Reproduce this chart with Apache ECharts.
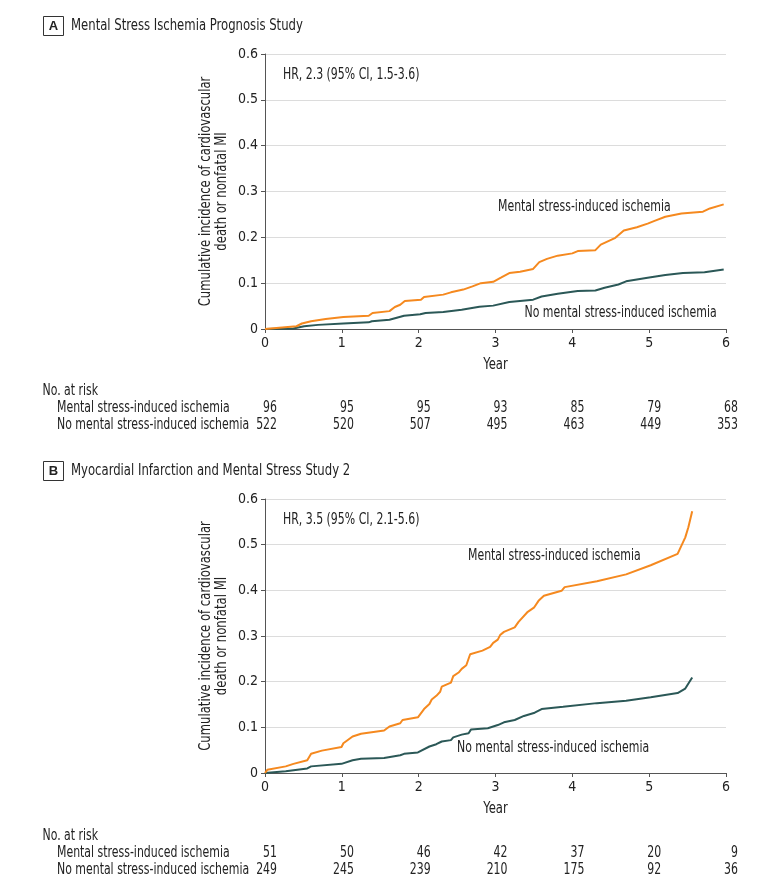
<!DOCTYPE html>
<html><head><meta charset="utf-8">
<script src="https://cdn.jsdelivr.net/npm/echarts@6/dist/echarts.min.js"></script>
<style>html,body{margin:0;padding:0;background:#fff}#c{width:780px;height:885px}</style>
</head><body><div id="c"></div>
<script>
const FONT = '"DejaVu Sans Condensed","DejaVu Sans",sans-serif';
const SX = 0.81;
const yearTicks = [0,1,2,3,4,5,6];
const yTicks = [0,0.1,0.2,0.3,0.4,0.5,0.6];
const seriesNames = ['Mental stress-induced ischemia','No mental stress-induced ischemia'];

// Panel A: Mental Stress Ischemia Prognosis Study
const aMsiX = [0,0.41,0.48,0.6,0.79,1.02,1.35,1.40,1.62,1.69,1.76,1.82,2.03,2.07,2.32,2.42,2.58,2.70,2.81,2.97,3.07,3.18,3.32,3.49,3.57,3.67,3.81,4.0,4.07,4.30,4.37,4.56,4.67,4.84,4.98,5.07,5.21,5.42,5.70,5.79,5.97];
const aMsiY = [0,0.006,0.012,0.017,0.022,0.026,0.029,0.035,0.039,0.048,0.053,0.061,0.064,0.070,0.075,0.080,0.086,0.093,0.100,0.103,0.112,0.122,0.125,0.131,0.146,0.153,0.160,0.165,0.170,0.172,0.184,0.199,0.215,0.222,0.230,0.236,0.245,0.252,0.256,0.263,0.272];
const aNoX = [0,0.37,0.51,0.69,1.02,1.35,1.39,1.62,1.81,2.02,2.09,2.32,2.56,2.79,2.97,3.18,3.49,3.60,3.81,4.07,4.30,4.42,4.60,4.70,4.98,5.21,5.44,5.72,5.97];
const aNoY = [0,0.001,0.006,0.009,0.012,0.0145,0.017,0.020,0.029,0.032,0.035,0.037,0.042,0.0485,0.051,0.059,0.064,0.071,0.077,0.083,0.084,0.090,0.097,0.104,0.112,0.118,0.122,0.124,0.130];
const aRiskMsi = [96,95,95,93,85,79,68];
const aRiskNo = [522,520,507,495,463,449,353];

// Panel B: Myocardial Infarction and Mental Stress Study 2
const bMsiX = [0,0.03,0.27,0.37,0.55,0.60,0.74,0.996,1.02,1.14,1.25,1.55,1.62,1.76,1.79,1.99,2.07,2.14,2.17,2.23,2.28,2.30,2.42,2.45,2.52,2.56,2.62,2.67,2.83,2.93,2.97,3.03,3.06,3.11,3.25,3.30,3.42,3.50,3.56,3.63,3.86,3.90,4.32,4.70,5.02,5.37,5.47,5.51,5.56];
const bMsiY = [0,0.007,0.0145,0.020,0.028,0.042,0.049,0.057,0.065,0.080,0.086,0.093,0.102,0.109,0.116,0.122,0.140,0.151,0.161,0.169,0.178,0.189,0.198,0.212,0.220,0.228,0.236,0.260,0.268,0.276,0.285,0.292,0.302,0.309,0.319,0.331,0.353,0.362,0.377,0.388,0.399,0.407,0.420,0.435,0.455,0.480,0.516,0.538,0.573];
const bNoX = [0,0.27,0.55,0.60,0.996,1.14,1.25,1.55,1.76,1.81,1.99,2.14,2.23,2.30,2.42,2.45,2.56,2.65,2.68,2.90,3.03,3.11,3.25,3.37,3.51,3.60,3.88,3.90,4.32,4.70,5.02,5.37,5.47,5.56];
const bNoY = [0,0.004,0.010,0.0145,0.020,0.028,0.031,0.033,0.039,0.042,0.045,0.058,0.063,0.069,0.072,0.078,0.084,0.087,0.095,0.098,0.105,0.111,0.116,0.125,0.132,0.140,0.145,0.148,0.153,0.158,0.166,0.175,0.185,0.209];
const bRiskMsi = [51,50,46,42,37,20,9];
const bRiskNo = [249,245,239,210,175,92,36];

const ORANGE = '#F5891F', TEAL = '#2B5857';
const zip = (xs, ys) => xs.map((x,i)=>[x, ys[i]]);

const grids = [
  {left:265, top:54, width:461, height:275},
  {left:265, top:499, width:461, height:274}
];
function xAxis(i){
  return {type:'value', gridIndex:i, min:0, max:6, interval:1,
    axisLine:{show:true, lineStyle:{color:'#555', width:1}},
    axisTick:{show:true, length:4, lineStyle:{color:'#555'}},
    axisLabel:{fontFamily:FONT, fontSize:14, color:'#222', margin:7},
    splitLine:{show:false}};
}
function yAxis(i){
  return {type:'value', gridIndex:i, min:0, max:0.6, interval:0.1,
    axisLine:{show:true, lineStyle:{color:'#555', width:1}},
    axisTick:{show:true, length:4, lineStyle:{color:'#555'}},
    axisLabel:{fontFamily:FONT, fontSize:14, color:'#222', margin:7, formatter:v=>String(+v.toFixed(1))},
    splitLine:{show:true, lineStyle:{color:'#dcdcdc', width:1}}};
}
function line(name, data, color, i){
  return {type:'line', name, data, xAxisIndex:i, yAxisIndex:i, showSymbol:false, symbol:'none',
    lineStyle:{color, width:2}, itemStyle:{color}, z: name.startsWith('No')?3:4, animation:false};
}

const chart = echarts.init(document.getElementById('c'), null, {renderer:'canvas'});
chart.setOption({
  animation:false,
  grid:grids,
  xAxis:[xAxis(0), xAxis(1)],
  yAxis:[yAxis(0), yAxis(1)],
  series:[
    line(seriesNames[0], zip(aMsiX,aMsiY), ORANGE, 0),
    line(seriesNames[1], zip(aNoX,aNoY), TEAL, 0),
    line(seriesNames[0], zip(bMsiX,bMsiY), ORANGE, 1),
    line(seriesNames[1], zip(bNoX,bNoY), TEAL, 1)
  ]
});

const g = [];
function T(x,y,t,align,opts){
  opts = opts||{};
  g.push({type:'text', x, y, rotation:opts.rot||0, scaleX:opts.sx||SX, scaleY:1,
    style:{text:t, fontFamily:FONT, fontSize:opts.size||15, fill:'#222', align:align||'left', verticalAlign:'middle'}});
}
function panelHeader(letter, title, yc){
  g.push({type:'rect', shape:{x:43.5, y:yc-9.5, width:20, height:19}, style:{fill:'#fff', stroke:'#333', lineWidth:1}});
  g.push({type:'text', x:53.5, y:yc+0.5, style:{text:letter, fontFamily:'"Liberation Sans",sans-serif', fontWeight:'bold', fontSize:13, fill:'#222', align:'center', verticalAlign:'middle'}});
  T(71, yc, title, 'left', {size:16});
}
function axisTitles(gi){
  const top = gi===0 ? 54 : 499, h = gi===0 ? 275 : 274;
  const cy = top + h/2;
  T(205.5, cy, 'Cumulative incidence of cardiovascular', 'center', {rot:Math.PI/2, size:16});
  T(222, cy, 'death or nonfatal MI', 'center', {rot:Math.PI/2, size:16});
  const cx = chart.convertToPixel({gridIndex:gi},[3,0]);
  T(cx[0], cx[1]+36, 'Year', 'center', {size:16});
}

panelHeader('A','Mental Stress Ischemia Prognosis Study',26);
panelHeader('B','Myocardial Infarction and Mental Stress Study 2',471);
axisTitles(0); axisTitles(1);
T(283,75,'HR, 2.3 (95% CI, 1.5-3.6)');
T(283,520.5,'HR, 3.5 (95% CI, 2.1-5.6)');
T(498,207,seriesNames[0]);
T(524.5,313,seriesNames[1]);
T(468,556,seriesNames[0]);
T(457,748,seriesNames[1]);

function riskTable(gi, y0, msi, no){
  T(42.5,y0,'No. at risk');
  T(57,y0+17,seriesNames[0]);
  T(57,y0+34.5,seriesNames[1]);
  yearTicks.forEach((yr,k)=>{
    const px = chart.convertToPixel({gridIndex:gi},[yr,0])[0];
    T(px+12, y0+17, String(msi[k]), 'right');
    T(px+12, y0+34.5, String(no[k]), 'right');
  });
}
riskTable(0,391,aRiskMsi,aRiskNo);
riskTable(1,836,bRiskMsi,bRiskNo);
chart.setOption({graphic:g});
</script></body></html>
